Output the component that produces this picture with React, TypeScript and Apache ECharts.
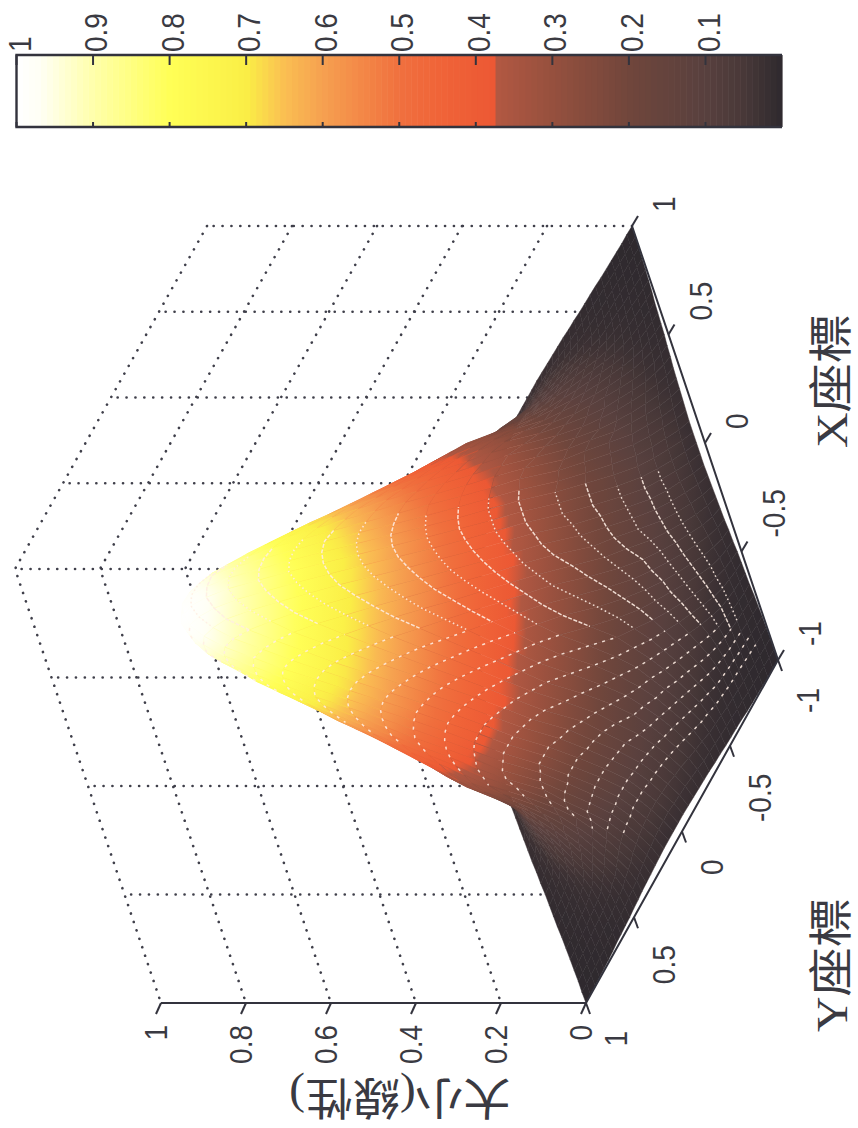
import { useEffect, useRef } from "react"
import * as echarts from "echarts"

const WIDTH = 858
const HEIGHT = 1128

// heights, one quadrant (|X| across, |Y| down, step 0.05)
const surfaceRows = [
  [1, 0.995, 0.97, 0.93, 0.87, 0.81, 0.74, 0.67, 0.6, 0.53, 0.465, 0.4, 0.34, 0.265, 0.205, 0.15, 0.105, 0.078, 0.055, 0.035, 0.02],
  [0.995, 0.985, 0.96, 0.92, 0.86, 0.8, 0.735, 0.665, 0.595, 0.525, 0.46, 0.4, 0.34, 0.265, 0.205, 0.15, 0.105, 0.078, 0.055, 0.035, 0.02],
  [0.97, 0.96, 0.94, 0.895, 0.84, 0.78, 0.72, 0.65, 0.58, 0.515, 0.45, 0.39, 0.33, 0.25, 0.195, 0.145, 0.1, 0.073, 0.053, 0.033, 0.02],
  [0.93, 0.92, 0.895, 0.855, 0.81, 0.75, 0.69, 0.625, 0.56, 0.5, 0.435, 0.375, 0.32, 0.24, 0.19, 0.14, 0.098, 0.071, 0.05, 0.031, 0.019],
  [0.87, 0.86, 0.84, 0.81, 0.765, 0.71, 0.655, 0.595, 0.535, 0.475, 0.415, 0.36, 0.3, 0.22, 0.18, 0.135, 0.092, 0.067, 0.045, 0.029, 0.018],
  [0.81, 0.8, 0.78, 0.75, 0.71, 0.665, 0.615, 0.56, 0.5, 0.445, 0.39, 0.335, 0.265, 0.2, 0.16, 0.115, 0.086, 0.062, 0.042, 0.026, 0.017],
  [0.74, 0.735, 0.72, 0.69, 0.655, 0.615, 0.565, 0.515, 0.465, 0.41, 0.36, 0.31, 0.235, 0.175, 0.13, 0.1, 0.075, 0.055, 0.035, 0.023, 0.016],
  [0.67, 0.665, 0.65, 0.625, 0.595, 0.56, 0.515, 0.47, 0.425, 0.375, 0.33, 0.265, 0.2, 0.15, 0.118, 0.09, 0.067, 0.047, 0.03, 0.019, 0.015],
  [0.6, 0.595, 0.58, 0.56, 0.535, 0.5, 0.465, 0.425, 0.38, 0.34, 0.29, 0.22, 0.17, 0.13, 0.1, 0.078, 0.057, 0.038, 0.026, 0.017, 0.013],
  [0.53, 0.525, 0.515, 0.5, 0.475, 0.445, 0.41, 0.375, 0.34, 0.295, 0.235, 0.18, 0.14, 0.115, 0.09, 0.067, 0.047, 0.03, 0.02, 0.015, 0.012],
  [0.465, 0.46, 0.45, 0.435, 0.415, 0.39, 0.36, 0.33, 0.29, 0.235, 0.18, 0.15, 0.118, 0.094, 0.073, 0.055, 0.037, 0.026, 0.017, 0.013, 0.01],
  [0.4, 0.4, 0.39, 0.375, 0.36, 0.335, 0.31, 0.265, 0.22, 0.18, 0.15, 0.12, 0.098, 0.077, 0.06, 0.043, 0.029, 0.019, 0.015, 0.011, 0.009],
  [0.34, 0.34, 0.33, 0.32, 0.3, 0.265, 0.235, 0.2, 0.17, 0.14, 0.118, 0.098, 0.08, 0.062, 0.045, 0.031, 0.02, 0.016, 0.012, 0.01, 0.008],
  [0.265, 0.265, 0.25, 0.24, 0.22, 0.2, 0.175, 0.15, 0.13, 0.115, 0.094, 0.077, 0.062, 0.047, 0.033, 0.023, 0.017, 0.013, 0.01, 0.008, 0.007],
  [0.205, 0.205, 0.195, 0.19, 0.18, 0.16, 0.13, 0.118, 0.1, 0.09, 0.073, 0.06, 0.045, 0.033, 0.024, 0.018, 0.014, 0.011, 0.009, 0.007, 0.005],
  [0.15, 0.15, 0.145, 0.14, 0.135, 0.115, 0.1, 0.09, 0.078, 0.067, 0.055, 0.043, 0.031, 0.023, 0.018, 0.014, 0.012, 0.01, 0.007, 0.005, 0.004],
  [0.105, 0.105, 0.1, 0.098, 0.092, 0.086, 0.075, 0.067, 0.057, 0.047, 0.037, 0.029, 0.02, 0.017, 0.014, 0.012, 0.009, 0.008, 0.006, 0.004, 0.003],
  [0.078, 0.078, 0.073, 0.071, 0.067, 0.062, 0.055, 0.047, 0.038, 0.03, 0.026, 0.019, 0.016, 0.013, 0.011, 0.01, 0.008, 0.006, 0.004, 0.003, 0.002],
  [0.055, 0.055, 0.053, 0.05, 0.045, 0.042, 0.035, 0.03, 0.026, 0.02, 0.017, 0.015, 0.012, 0.01, 0.009, 0.007, 0.006, 0.004, 0.003, 0.002, 0.001],
  [0.035, 0.035, 0.033, 0.031, 0.029, 0.026, 0.023, 0.019, 0.017, 0.015, 0.013, 0.011, 0.01, 0.008, 0.007, 0.005, 0.004, 0.003, 0.002, 0.001, 0.001],
  [0.02, 0.02, 0.02, 0.019, 0.018, 0.017, 0.016, 0.015, 0.013, 0.012, 0.01, 0.009, 0.008, 0.007, 0.005, 0.004, 0.003, 0.002, 0.001, 0.001, 0],
]

// colour scale: [value, r, g, b]
const colorStops = [
  [0, 46, 41, 46],
  [0.05, 72, 56, 56],
  [0.1, 88, 64, 62],
  [0.2, 112, 70, 60],
  [0.3, 150, 80, 62],
  [0.374, 178, 88, 66],
  [0.376, 236, 88, 52],
  [0.45, 240, 100, 56],
  [0.5, 240, 112, 62],
  [0.6, 246, 160, 80],
  [0.65, 250, 190, 82],
  [0.7, 250, 238, 70],
  [0.8, 255, 255, 86],
  [0.9, 255, 255, 170],
  [0.97, 255, 255, 245],
  [1, 255, 255, 255],
]

const barValues = [...Array(128).keys()].map((k) => k / 128)
const barTicks = [1, 0.9, 0.8, 0.7, 0.6, 0.5, 0.4, 0.3, 0.2, 0.1]

const zTicks = [0, 0.2, 0.4, 0.6, 0.8, 1]
const xTicks = [-1, -0.5, 0, 0.5, 1]
const yTicks = [-1, -0.5, 0, 0.5, 1]

// pale seams showing through the mesh: [fixed grid index, from, to]
const seamsAlongX = [
  [19, 23, 18], [18, 23, 17], [17, 23, 17], [16, 23, 16], [15, 23, 15], [14, 23, 14], [13, 23, 13], [12, 23, 13],
  [11, 22, 12], [10, 22, 11], [9, 22, 10], [8, 22, 10], [7, 21, 9], [6, 21, 8], [5, 20, 7], [4, 20, 6], [3, 20, 6],
]
const seamsAlongY = [
  [19, 20, 22], [18, 20, 23], [17, 18, 24], [16, 17, 24], [15, 16, 24], [14, 15, 25], [13, 13, 25], [12, 12, 25], [11, 11, 25],
  [10, 10, 26], [9, 8, 26], [8, 7, 26], [7, 5, 26], [6, 4, 26], [5, 3, 26], [4, 2, 25], [3, 2, 24],
]

// picture position of floor centre and unit vectors of the box
const ORIGIN = [609, 614.5]
const UNIT_X = [-73, -217]
const UNIT_Y = [-96, 171.5]
const UNIT_Z = 425

const project = (x: number, y: number, z: number) => [
  ORIGIN[0] + UNIT_X[0] * x + UNIT_Y[0] * y - UNIT_Z * z,
  ORIGIN[1] + UNIT_X[1] * x + UNIT_Y[1] * y,
]

const heightAt = (i: number, j: number) => surfaceRows[Math.abs(j - 20)][Math.abs(i - 20)]
const gridPoint = (i: number, j: number) => project(-1 + i * 0.05, -1 + j * 0.05, heightAt(i, j))

const colorOf = (v: number) => {
  for (let k = 1; k < colorStops.length; k++) {
    const a = colorStops[k - 1]
    const b = colorStops[k]
    if (v <= b[0]) {
      const t = (v - a[0]) / (b[0] - a[0])
      const c = [1, 2, 3].map((n) => Math.round(a[n] + (b[n] - a[n]) * Math.max(0, t)))
      return `rgb(${c[0]},${c[1]},${c[2]})`
    }
  }
  return "rgb(255,255,255)"
}

// back to front, so nearer cells paint over the far side of the hill
const cells: number[][] = []
for (let j = 0; j < 40; j++) {
  for (let i = 0; i < 40; i++) cells.push([i, j])
}
cells.sort((a, b) => b[0] * 0.63 + b[1] * 0.78 - (a[0] * 0.63 + a[1] * 0.78))

const wallLines: number[][][] = []
zTicks.slice(1).forEach((z) => {
  wallLines.push([project(1, -1, z), project(1, 1, z), project(-1, 1, z)])
})
yTicks.forEach((y) => wallLines.push([project(1, y, 0), project(1, y, 1)]))
xTicks.slice(1, 4).forEach((x) => wallLines.push([project(x, 1, 0), project(x, 1, 1)]))

const axisLines: number[][][] = [
  [project(1, -1, 0), project(-1, -1, 0), project(-1, 1, 0)],
  [project(-1, 1, 0), project(-1, 1, 1)],
]
zTicks.forEach((z) => {
  const p = project(-1, 1, z)
  axisLines.push([p, [p[0] - 5, p[1] + 11]])
})
xTicks.forEach((x) => {
  const p = project(x, -1, 0)
  axisLines.push([p, [p[0] + 6, p[1] - 10]])
})
yTicks.forEach((y) => {
  const p = project(-1, y, 0)
  axisLines.push([p, [p[0] + 4, p[1] + 11]])
})

const seams: { points: number[][]; dash: number[]; offset: number }[] = []
seamsAlongX.forEach(([j, from, to]) => {
  const points: number[][] = []
  for (let i = from; i >= to; i--) points.push(gridPoint(i, j))
  seams.push({ points, dash: j % 2 ? [1.6, 2.8] : [4, 1.6], offset: j * 2 })
})
seamsAlongY.forEach(([i, from, to]) => {
  const points: number[][] = []
  for (let j = from; j <= to; j++) points.push(gridPoint(i, j))
  seams.push({ points, dash: [3, 5.5], offset: i * 3 })
})

const SANS = "'Liberation Sans', Arial, sans-serif"
const TITLE = "'Liberation Serif', 'Noto Sans CJK TC', serif"
const QUARTER_TURN = Math.PI / 2

type Label = { text: string; pos: number[]; align: string; size: number; family: string; rotation: number; stretch: number }
const labels: Label[] = []
zTicks.forEach((z) => {
  const p = project(-1, 1, z)
  labels.push({ text: String(z), pos: [p[0] - 5, p[1] + 22], align: "right", size: 28, family: SANS, rotation: QUARTER_TURN, stretch: 1 })
})
xTicks.forEach((x) => {
  const p = project(x, -1, 0)
  labels.push({ text: String(x), pos: [p[0] + 32, p[1] - 14], align: "left", size: 28, family: SANS, rotation: QUARTER_TURN, stretch: 1 })
})
yTicks.forEach((y) => {
  const p = project(-1, y, 0)
  labels.push({ text: String(y), pos: [p[0] + 30, p[1] + 28], align: "right", size: 28, family: SANS, rotation: QUARTER_TURN, stretch: 1 })
})
labels.push({ text: "X座標", pos: [832, 381], align: "center", size: 44, family: TITLE, rotation: QUARTER_TURN, stretch: 1.12 })
labels.push({ text: "Y座標", pos: [832, 965], align: "center", size: 44, family: TITLE, rotation: QUARTER_TURN, stretch: 1.12 })
labels.push({ text: "大小(線性)", pos: [400, 1097], align: "center", size: 44, family: TITLE, rotation: Math.PI, stretch: 1.08 })

const pixelSeries = (renderItem: any, data: number[][], z: number) => ({
  type: "custom",
  coordinateSystem: "cartesian2d",
  xAxisIndex: 0,
  yAxisIndex: 0,
  clip: false,
  silent: true,
  z,
  data,
  renderItem,
})

const barSeries = (renderItem: any, data: number[][], z: number) => ({
  type: "custom",
  coordinateSystem: "cartesian2d",
  xAxisIndex: 1,
  yAxisIndex: 1,
  clip: false,
  silent: true,
  z,
  data,
  renderItem,
})

const indexData = (n: number) => [...Array(n).keys()].map((k) => [k, 0])

function buildOption() {
  const toPixels = (api: any, points: number[][]) => points.map((p) => api.coord(p))

  const renderCell = (_: any, api: any) => {
    const i = api.value(0)
    const j = api.value(1)
    const corners = [[i, j], [i + 1, j], [i + 1, j + 1], [i, j + 1]]
    const heights = corners.map(([a, b]) => heightAt(a, b))
    const points = toPixels(api, corners.map(([a, b]) => gridPoint(a, b)))
    const lo = heights.indexOf(Math.min(...heights))
    const hi = heights.indexOf(Math.max(...heights))
    const mean = heights.reduce((s, v) => s + v, 0) / 4
    const stops = [0, 0.25, 0.5, 0.75, 1].map((t) => ({
      offset: t,
      color: colorOf(heights[lo] + (heights[hi] - heights[lo]) * t),
    }))
    const fill =
      heights[hi] - heights[lo] < 0.004
        ? colorOf(mean)
        : new echarts.graphic.LinearGradient(points[lo][0], points[lo][1], points[hi][0], points[hi][1], stops, true)
    return {
      type: "polygon",
      shape: { points },
      style: { fill, stroke: colorOf(mean), lineWidth: 0.5 },
    }
  }

  const renderWall = (_: any, api: any) => ({
    type: "polyline",
    shape: { points: toPixels(api, wallLines[api.value(0)]) },
    style: { stroke: "#3f3f4a", lineWidth: 2.6, lineCap: "round", lineDash: [0.1, 8.8], fill: "none" },
  })

  const renderSeam = (_: any, api: any) => {
    const seam = seams[api.value(0)]
    return {
      type: "polyline",
      shape: { points: toPixels(api, seam.points) },
      style: { stroke: "rgba(255,238,228,0.88)", lineWidth: 1.5, lineDash: seam.dash, lineDashOffset: seam.offset, fill: "none" },
    }
  }

  const renderAxis = (_: any, api: any) => ({
    type: "polyline",
    shape: { points: toPixels(api, axisLines[api.value(0)]) },
    style: { stroke: "#33333d", lineWidth: 2, fill: "none" },
  })

  const renderLabel = (_: any, api: any) => {
    const label = labels[api.value(0)]
    const p = api.coord(label.pos)
    return {
      type: "text",
      x: p[0],
      y: p[1],
      rotation: label.rotation,
      scaleX: label.stretch,
      scaleY: label.family === SANS ? 1.12 : 1,
      style: {
        text: label.text,
        fontSize: label.size,
        fontFamily: label.family,
        fill: "#3a3a42",
        align: label.align,
        verticalAlign: "middle",
      },
    }
  }

  const renderBar = (_: any, api: any) => {
    const v = api.value(0)
    const a = api.coord([v, 0])
    const b = api.coord([v + 1 / 128, 1])
    return {
      type: "rect",
      shape: { x: Math.min(a[0], b[0]), y: Math.min(a[1], b[1]), width: Math.abs(a[0] - b[0]) + 0.6, height: Math.abs(a[1] - b[1]) },
      style: { fill: colorOf(v + 1 / 256) },
    }
  }

  const renderBarFrame = (_: any, api: any) => ({
    type: "polyline",
    shape: { points: [api.coord([0, 1]), api.coord([1, 1]), api.coord([1, 0]), api.coord([0, 0])] },
    style: { stroke: "#33333d", lineWidth: 2.4, fill: "none" },
  })

  const renderBarTick = (_: any, api: any) => {
    const v = api.value(0)
    const top = api.coord([v, 1])
    const bottom = api.coord([v, 0])
    return {
      type: "group",
      children: [
        { type: "line", shape: { x1: top[0], y1: top[1], x2: top[0], y2: top[1] + 10 }, style: { stroke: "#33333d", lineWidth: 2 } },
        { type: "line", shape: { x1: bottom[0], y1: bottom[1], x2: bottom[0], y2: bottom[1] - 5 }, style: { stroke: "#33333d", lineWidth: 2 } },
        {
          type: "text",
          x: top[0] + 3,
          y: top[1] - 3,
          rotation: QUARTER_TURN,
          scaleY: 1.12,
          style: { text: String(v), fontSize: 28, fontFamily: SANS, fill: "#3a3a42", align: "left", verticalAlign: "middle" },
        },
      ],
    }
  }

  return {
    animation: false,
    backgroundColor: "#ffffff",
    grid: [
      { left: 0, top: 0, width: WIDTH, height: HEIGHT },
      { left: 16.5, top: 55, width: 765.5, height: 72 },
    ],
    xAxis: [
      { type: "value", gridIndex: 0, min: 0, max: WIDTH, show: false },
      { type: "value", gridIndex: 1, min: 0, max: 1, inverse: true, show: false },
    ],
    yAxis: [
      { type: "value", gridIndex: 0, min: 0, max: HEIGHT, inverse: true, show: false },
      { type: "value", gridIndex: 1, min: 0, max: 1, show: false },
    ],
    series: [
      pixelSeries(renderWall, indexData(wallLines.length), 1),
      pixelSeries(renderCell, cells, 2),
      pixelSeries(renderSeam, indexData(seams.length), 3),
      pixelSeries(renderAxis, indexData(axisLines.length), 4),
      pixelSeries(renderLabel, indexData(labels.length), 5),
      barSeries(renderBar, barValues.map((v) => [v, 0]), 2),
      barSeries(renderBarFrame, [[0, 0]], 3),
      barSeries(renderBarTick, barTicks.map((v) => [v, 0]), 4),
    ],
  }
}

export default function App() {
  const chartRef = useRef<HTMLDivElement>(null)

  useEffect(() => {
    if (!chartRef.current) return
    document.body.style.margin = "0"
    const chart = echarts.init(chartRef.current, null, { renderer: "svg" })
    chart.setOption(buildOption() as any)
    return () => chart.dispose()
  }, [])

  return <div ref={chartRef} style={{ width: WIDTH, height: HEIGHT, background: "#ffffff" }} />
}
